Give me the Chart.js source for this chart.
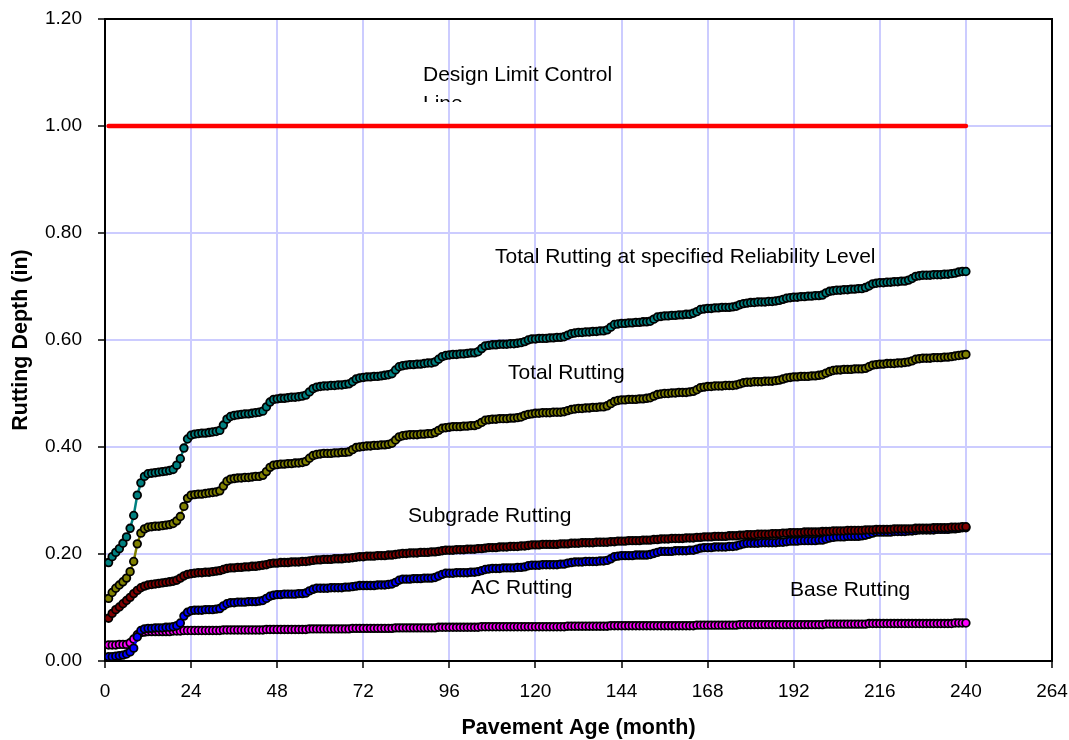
<!DOCTYPE html>
<html>
<head>
<meta charset="utf-8">
<script src="https://cdn.jsdelivr.net/npm/chart.js@4.4.1/dist/chart.umd.min.js"></script>
<style>
  html, body { margin: 0; padding: 0; background: #fff; }
  #wrap { width: 1069px; height: 740px; }
</style>
</head>
<body>
<div id="wrap"><canvas id="rutChart" width="1069" height="740"></canvas></div>
<script>
// pavement age, months 1..240
const months = Array.from({ length: 240 }, (_, i) => i + 1);
const xTicks = [0, 24, 48, 72, 96, 120, 144, 168, 192, 216, 240, 264];
const yTicks = [0, 0.2, 0.4, 0.6, 0.8, 1.0, 1.2];

// design limit control line
const limitMonths = [1, 240];
const limitValues = [1.0, 1.0];

// total rutting at specified reliability level (in)
const reliabilityRut = [
  0.184,0.195,0.203,0.210,0.220,0.232,0.248,0.272,0.310,0.333,0.345,0.350,
  0.351,0.352,0.353,0.354,0.355,0.356,0.358,0.366,0.378,0.398,0.415,0.422,
  0.424,0.425,0.426,0.426,0.427,0.428,0.429,0.431,0.441,0.452,0.457,0.459,
  0.460,0.461,0.462,0.462,0.463,0.464,0.465,0.467,0.475,0.484,0.489,0.490,
  0.491,0.491,0.492,0.493,0.493,0.494,0.495,0.497,0.503,0.509,0.512,0.513,
  0.514,0.514,0.515,0.515,0.516,0.516,0.517,0.518,0.522,0.527,0.529,0.530,
  0.531,0.531,0.532,0.532,0.533,0.534,0.535,0.537,0.544,0.550,0.552,0.553,
  0.554,0.554,0.555,0.555,0.556,0.557,0.557,0.559,0.564,0.569,0.571,0.572,
  0.573,0.573,0.574,0.574,0.575,0.576,0.576,0.578,0.584,0.589,0.590,0.591,
  0.591,0.592,0.592,0.592,0.593,0.593,0.594,0.595,0.597,0.600,0.602,0.602,
  0.603,0.603,0.603,0.604,0.604,0.605,0.605,0.606,0.609,0.612,0.613,0.614,
  0.614,0.615,0.615,0.616,0.616,0.617,0.617,0.619,0.624,0.629,0.630,0.631,
  0.631,0.632,0.632,0.633,0.633,0.634,0.634,0.635,0.639,0.643,0.644,0.645,
  0.645,0.646,0.646,0.647,0.647,0.648,0.648,0.650,0.653,0.657,0.658,0.659,
  0.659,0.660,0.660,0.661,0.661,0.661,0.662,0.663,0.666,0.668,0.669,0.670,
  0.670,0.671,0.671,0.671,0.672,0.672,0.673,0.674,0.676,0.678,0.679,0.680,
  0.680,0.681,0.681,0.682,0.682,0.683,0.683,0.684,0.688,0.691,0.692,0.693,
  0.693,0.694,0.694,0.695,0.695,0.696,0.696,0.698,0.701,0.705,0.706,0.707,
  0.707,0.708,0.708,0.709,0.709,0.710,0.710,0.712,0.715,0.719,0.720,0.721,
  0.721,0.721,0.722,0.722,0.722,0.723,0.723,0.724,0.725,0.727,0.728,0.728
];

// total rutting (in)
const totalRut = [
  0.117,0.128,0.136,0.142,0.148,0.155,0.167,0.186,0.219,0.239,0.247,0.250,
  0.251,0.252,0.252,0.253,0.254,0.255,0.257,0.262,0.270,0.289,0.304,0.310,
  0.311,0.312,0.312,0.313,0.314,0.315,0.316,0.318,0.327,0.336,0.340,0.341,
  0.342,0.342,0.343,0.343,0.344,0.345,0.345,0.347,0.354,0.362,0.366,0.367,
  0.368,0.368,0.369,0.369,0.370,0.370,0.371,0.373,0.379,0.384,0.386,0.387,
  0.388,0.388,0.388,0.389,0.389,0.390,0.390,0.391,0.395,0.399,0.400,0.401,
  0.402,0.402,0.403,0.403,0.404,0.404,0.405,0.407,0.413,0.419,0.421,0.422,
  0.423,0.423,0.423,0.424,0.424,0.425,0.425,0.427,0.431,0.435,0.436,0.437,
  0.438,0.438,0.438,0.439,0.439,0.440,0.440,0.442,0.446,0.450,0.451,0.452,
  0.452,0.453,0.453,0.453,0.454,0.454,0.455,0.456,0.459,0.461,0.462,0.463,
  0.463,0.464,0.464,0.464,0.465,0.465,0.465,0.466,0.468,0.470,0.471,0.472,
  0.472,0.473,0.473,0.474,0.474,0.475,0.475,0.477,0.481,0.485,0.487,0.488,
  0.488,0.489,0.489,0.489,0.490,0.490,0.491,0.492,0.495,0.498,0.499,0.500,
  0.500,0.501,0.501,0.502,0.502,0.502,0.503,0.504,0.507,0.511,0.512,0.513,
  0.513,0.514,0.514,0.514,0.515,0.515,0.515,0.516,0.518,0.520,0.521,0.521,
  0.522,0.522,0.522,0.523,0.523,0.523,0.524,0.525,0.527,0.529,0.530,0.531,
  0.531,0.532,0.532,0.532,0.533,0.533,0.534,0.535,0.538,0.541,0.543,0.544,
  0.544,0.545,0.545,0.545,0.546,0.546,0.546,0.547,0.550,0.553,0.554,0.555,
  0.555,0.556,0.556,0.556,0.557,0.557,0.558,0.559,0.561,0.564,0.565,0.566,
  0.566,0.566,0.567,0.567,0.567,0.568,0.568,0.569,0.570,0.571,0.572,0.573
];

// subgrade rutting (in)
const subgradeRut = [
  0.080,0.089,0.096,0.101,0.107,0.113,0.119,0.126,0.132,0.137,0.140,0.142,
  0.143,0.144,0.145,0.146,0.147,0.148,0.149,0.151,0.155,0.159,0.162,0.163,
  0.164,0.165,0.165,0.166,0.166,0.167,0.168,0.169,0.171,0.173,0.174,0.174,
  0.175,0.175,0.176,0.176,0.177,0.177,0.178,0.179,0.180,0.182,0.183,0.183,
  0.184,0.184,0.184,0.185,0.185,0.185,0.186,0.186,0.187,0.188,0.189,0.189,
  0.190,0.190,0.190,0.191,0.191,0.191,0.192,0.192,0.193,0.194,0.195,0.195,
  0.196,0.196,0.196,0.197,0.197,0.197,0.198,0.198,0.199,0.200,0.201,0.201,
  0.202,0.202,0.202,0.203,0.203,0.203,0.204,0.204,0.205,0.206,0.207,0.207,
  0.207,0.208,0.208,0.208,0.209,0.209,0.209,0.210,0.210,0.211,0.212,0.212,
  0.212,0.213,0.213,0.213,0.214,0.214,0.214,0.215,0.215,0.216,0.217,0.217,
  0.217,0.218,0.218,0.218,0.218,0.218,0.219,0.219,0.219,0.220,0.220,0.220,
  0.221,0.221,0.221,0.221,0.222,0.222,0.222,0.222,0.223,0.223,0.224,0.224,
  0.224,0.225,0.225,0.225,0.225,0.226,0.226,0.226,0.227,0.227,0.228,0.228,
  0.228,0.229,0.229,0.229,0.229,0.230,0.230,0.230,0.231,0.231,0.232,0.232,
  0.232,0.233,0.233,0.233,0.233,0.234,0.234,0.234,0.235,0.235,0.236,0.236,
  0.236,0.237,0.237,0.237,0.237,0.238,0.238,0.238,0.239,0.239,0.240,0.240,
  0.240,0.240,0.241,0.241,0.241,0.241,0.241,0.242,0.242,0.242,0.243,0.243,
  0.243,0.243,0.244,0.244,0.244,0.244,0.244,0.245,0.245,0.245,0.246,0.246,
  0.246,0.246,0.246,0.247,0.247,0.247,0.247,0.247,0.247,0.248,0.248,0.248,
  0.248,0.248,0.249,0.249,0.249,0.249,0.249,0.250,0.250,0.250,0.251,0.251
];

// AC rutting (in)
const acRut = [
  0.008,0.008,0.009,0.010,0.011,0.013,0.017,0.024,0.045,0.057,0.060,0.061,
  0.061,0.062,0.062,0.062,0.063,0.063,0.064,0.066,0.071,0.084,0.091,0.094,
  0.095,0.095,0.095,0.096,0.096,0.096,0.097,0.098,0.103,0.107,0.109,0.109,
  0.110,0.110,0.110,0.111,0.111,0.111,0.112,0.113,0.117,0.121,0.123,0.124,
  0.124,0.125,0.125,0.125,0.125,0.126,0.126,0.127,0.131,0.134,0.136,0.136,
  0.136,0.136,0.137,0.137,0.137,0.137,0.138,0.138,0.139,0.140,0.141,0.141,
  0.141,0.141,0.141,0.142,0.142,0.142,0.143,0.144,0.147,0.151,0.153,0.153,
  0.153,0.154,0.154,0.154,0.155,0.155,0.155,0.156,0.159,0.162,0.164,0.164,
  0.164,0.165,0.165,0.165,0.165,0.166,0.166,0.167,0.169,0.171,0.172,0.173,
  0.173,0.173,0.174,0.174,0.174,0.174,0.175,0.175,0.176,0.178,0.179,0.179,
  0.179,0.180,0.180,0.180,0.180,0.180,0.181,0.181,0.183,0.184,0.185,0.185,
  0.185,0.186,0.186,0.186,0.186,0.187,0.187,0.188,0.191,0.195,0.196,0.197,
  0.197,0.197,0.197,0.198,0.198,0.198,0.198,0.199,0.201,0.203,0.205,0.205,
  0.205,0.205,0.206,0.206,0.206,0.206,0.207,0.207,0.209,0.211,0.212,0.212,
  0.212,0.213,0.213,0.213,0.213,0.214,0.214,0.215,0.217,0.219,0.220,0.220,
  0.220,0.220,0.221,0.221,0.221,0.221,0.221,0.222,0.222,0.223,0.224,0.224,
  0.224,0.225,0.225,0.225,0.225,0.225,0.226,0.226,0.228,0.230,0.231,0.232,
  0.232,0.232,0.233,0.233,0.233,0.233,0.234,0.235,0.237,0.239,0.241,0.241,
  0.241,0.241,0.241,0.242,0.242,0.242,0.242,0.243,0.243,0.244,0.245,0.245,
  0.245,0.245,0.245,0.246,0.246,0.246,0.246,0.247,0.247,0.248,0.249,0.249
];

// base rutting (in)
const baseRut = [
  0.030,0.030,0.030,0.031,0.031,0.031,0.034,0.041,0.049,0.053,0.054,0.055,
  0.055,0.055,0.055,0.055,0.055,0.055,0.056,0.056,0.056,0.057,0.057,0.057,
  0.057,0.057,0.057,0.057,0.057,0.057,0.057,0.057,0.058,0.058,0.058,0.058,
  0.058,0.058,0.058,0.058,0.058,0.058,0.058,0.058,0.059,0.059,0.059,0.059,
  0.059,0.059,0.059,0.059,0.059,0.059,0.059,0.059,0.060,0.060,0.060,0.060,
  0.060,0.060,0.060,0.060,0.060,0.060,0.060,0.060,0.061,0.061,0.061,0.061,
  0.061,0.061,0.061,0.061,0.061,0.061,0.061,0.061,0.062,0.062,0.062,0.062,
  0.062,0.062,0.062,0.062,0.062,0.062,0.062,0.062,0.063,0.063,0.063,0.063,
  0.063,0.063,0.063,0.063,0.063,0.063,0.063,0.063,0.064,0.064,0.064,0.064,
  0.064,0.064,0.064,0.064,0.064,0.064,0.064,0.064,0.064,0.064,0.064,0.064,
  0.064,0.064,0.064,0.064,0.064,0.064,0.064,0.064,0.065,0.065,0.065,0.065,
  0.065,0.065,0.065,0.065,0.065,0.065,0.065,0.065,0.066,0.066,0.066,0.066,
  0.066,0.066,0.066,0.066,0.066,0.066,0.066,0.066,0.066,0.066,0.066,0.066,
  0.066,0.066,0.066,0.066,0.066,0.066,0.066,0.066,0.067,0.067,0.067,0.067,
  0.067,0.067,0.067,0.067,0.067,0.067,0.067,0.067,0.068,0.068,0.068,0.068,
  0.068,0.068,0.068,0.068,0.068,0.068,0.068,0.068,0.068,0.068,0.068,0.068,
  0.068,0.068,0.068,0.068,0.068,0.068,0.068,0.068,0.069,0.069,0.069,0.069,
  0.069,0.069,0.069,0.069,0.069,0.069,0.069,0.069,0.070,0.070,0.070,0.070,
  0.070,0.070,0.070,0.070,0.070,0.070,0.070,0.070,0.070,0.070,0.070,0.070,
  0.070,0.070,0.070,0.070,0.070,0.070,0.070,0.070,0.071,0.071,0.071,0.071
];

const FONT = "'Liberation Sans', Arial, sans-serif";

function pairs(xs, ys) {
  return xs.map((x, i) => ({ x: x, y: ys[i] }));
}

function series(label, values, color) {
  return {
    label: label,
    data: pairs(months, values),
    borderColor: color,
    borderWidth: 2.5,
    pointRadius: 3.8,
    pointBorderWidth: 1.8,
    pointBorderColor: "#000",
    pointBackgroundColor: color,
    tension: 0
  };
}

// text labels placed inside the plot, plus top/right frame
const plotLabels = {
  id: "plotLabels",
  afterDraw(chart) {
    const ctx = chart.ctx;
    const a = chart.chartArea;
    ctx.save();
    ctx.strokeStyle = "#000";
    ctx.lineWidth = 2;
    ctx.beginPath();
    ctx.moveTo(a.left, a.top);
    ctx.lineTo(a.right, a.top);
    ctx.lineTo(a.right, a.bottom);
    ctx.stroke();

    ctx.fillStyle = "#000";
    ctx.font = "21px " + FONT;
    ctx.textAlign = "left";
    ctx.textBaseline = "middle";
    ctx.fillText("Design Limit Control", 423, 75);
    ctx.fillText("Total Rutting at specified Reliability Level", 495, 257);
    ctx.fillText("Total Rutting", 508, 373);
    ctx.fillText("Subgrade Rutting", 408, 516);
    ctx.fillText("AC Rutting", 471, 588);
    ctx.fillText("Base Rutting", 790, 590);

    // second line of the text box is cut off by the box edge
    ctx.beginPath();
    ctx.rect(400, 90, 200, 12);
    ctx.clip();
    ctx.fillText("Line", 423, 104);
    ctx.restore();
  }
};

const ctx = document.getElementById("rutChart").getContext("2d");
new Chart(ctx, {
  type: "line",
  data: {
    datasets: [
      {
        label: "Design Limit Control Line",
        data: pairs(limitMonths, limitValues),
        borderColor: "#ff0000",
        borderWidth: 4.5,
        borderCapStyle: "round",
        pointRadius: 0,
        tension: 0
      },
      series("Total Rutting at specified Reliability Level", reliabilityRut, "#008080"),
      series("Total Rutting", totalRut, "#808000"),
      series("Subgrade Rutting", subgradeRut, "#800000"),
      series("AC Rutting", acRut, "#0000ff"),
      series("Base Rutting", baseRut, "#ff00ff")
    ]
  },
  options: {
    responsive: false,
    animation: false,
    layout: { padding: { top: 19, right: 17, left: 0, bottom: 0 } },
    plugins: {
      legend: { display: false },
      tooltip: { enabled: false }
    },
    scales: {
      x: {
        type: "linear",
        min: xTicks[0],
        max: xTicks[xTicks.length - 1],
        afterBuildTicks: (s) => { s.ticks = xTicks.map(v => ({ value: v })); },
        afterFit: (s) => {
          s.height = 79;
          s.paddingLeft = 0;
          s.paddingRight = 0;
        },
        ticks: {
          color: "#000",
          font: { family: FONT, size: 19 },
          padding: 12,
          maxRotation: 0
        },
        grid: { color: "#ccccff", lineWidth: 2, tickColor: "#000", tickLength: 7, tickWidth: 1.5 },
        border: { color: "#000", width: 2 },
        title: {
          display: true,
          text: "Pavement Age (month)",
          color: "#000",
          font: { family: FONT, size: 21.5, weight: "bold", lineHeight: 1 },
          padding: { top: 0, bottom: 1 }
        }
      },
      y: {
        min: yTicks[0],
        max: yTicks[yTicks.length - 1],
        afterBuildTicks: (s) => { s.ticks = yTicks.map(v => ({ value: v })); },
        afterFit: (s) => {
          s.width = 105;
          s.paddingTop = 0;
          s.paddingBottom = 0;
        },
        ticks: {
          color: "#000",
          font: { family: FONT, size: 19 },
          padding: 16,
          callback: (v) => Number(v).toFixed(2)
        },
        grid: { color: "#ccccff", lineWidth: 2, tickColor: "#000", tickLength: 7, tickWidth: 1.5 },
        border: { color: "#000", width: 2 },
        title: {
          display: true,
          text: "Rutting Depth (in)",
          color: "#000",
          font: { family: FONT, size: 21.5, weight: "bold", lineHeight: 1 },
          padding: { top: 10, bottom: 0 }
        }
      }
    }
  },
  plugins: [plotLabels]
});
</script>
</body>
</html>
